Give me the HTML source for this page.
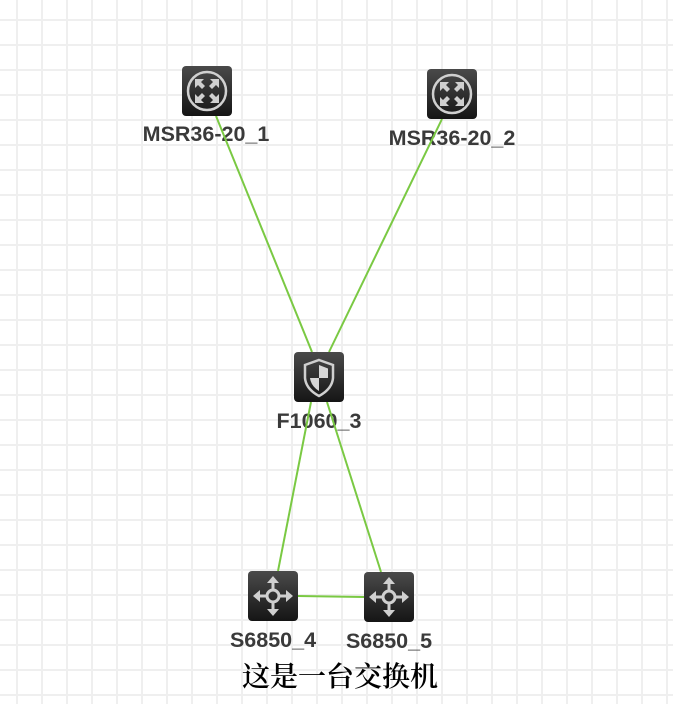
<!DOCTYPE html>
<html><head><meta charset="utf-8"><style>
html,body{margin:0;padding:0;background:#fff;}
svg{display:block;}
.l{font-family:"Liberation Sans",Arial,sans-serif;font-weight:bold;font-size:21.5px;fill:#3a3a3a;text-anchor:middle;}
</style></head><body>
<svg width="673" height="704" viewBox="0 0 673 704" xmlns="http://www.w3.org/2000/svg">
<defs>
<pattern id="g" x="16" y="19" width="25" height="25" patternUnits="userSpaceOnUse">
<rect x="0" y="0" width="2" height="25" fill="#efefef"/>
<rect x="0" y="0" width="25" height="2" fill="#efefef"/>
</pattern>
<linearGradient id="bg" x1="0" y1="0" x2="0" y2="1">
<stop offset="0" stop-color="#4a4a4a"/><stop offset="1" stop-color="#151515"/>
</linearGradient>
<g id="router">
<rect x="0" y="0" width="50" height="50" rx="4" fill="url(#bg)"/>
<circle cx="25" cy="25" r="19" fill="none" stroke="#d0d0d0" stroke-width="2.5"/>
<g fill="#cfcfcf">
<path d="M13 13 L22 13 L19 16 L23 20 L20 23 L16 19 L13 22 Z"/>
<path d="M37 13 L37 22 L34 19 L30 23 L27 20 L31 16 L28 13 Z"/>
<path d="M13 37 L13 28 L16 31 L20 27 L23 30 L19 34 L22 37 Z"/>
<path d="M37 37 L28 37 L31 34 L27 30 L30 27 L34 31 L37 28 Z"/>
</g>
</g>
<g id="switch">
<rect x="0" y="0" width="50" height="50" rx="4" fill="url(#bg)"/>
<g fill="none" stroke="#d0d0d0" stroke-width="3">
<circle cx="25" cy="25" r="6"/>
<path d="M25 19 V10 M25 31 V40 M19 25 H10 M31 25 H40"/>
</g>
<g fill="#d0d0d0">
<path d="M25 5 L31 12 L19 12 Z"/><path d="M25 45 L31 38 L19 38 Z"/>
<path d="M5 25 L12 19 L12 31 Z"/><path d="M45 25 L38 19 L38 31 Z"/>
</g>
</g>
</defs>
<rect width="673" height="704" fill="url(#g)"/>
<text class="l" x="206" y="141">MSR36-20_1</text>
<text class="l" x="452" y="145">MSR36-20_2</text>
<text class="l" x="319" y="428">F1060_3</text>
<text class="l" x="273" y="647">S6850_4</text>
<text class="l" x="389" y="648">S6850_5</text>
<g stroke="#7ac943" stroke-width="2" fill="none">
<line x1="216" y1="116" x2="312" y2="352"/>
<line x1="442" y1="119" x2="329" y2="352"/>
<line x1="311" y1="402" x2="278" y2="571"/>
<line x1="327" y1="402" x2="381" y2="572"/>
<line x1="298" y1="596" x2="364" y2="597"/>
</g>
<use href="#router" x="182" y="66"/>
<use href="#router" x="427" y="69"/>
<g transform="translate(294,352)">
<rect x="0" y="0" width="50" height="50" rx="4" fill="url(#bg)"/>
<path d="M25 8 L39 13 L39 26 Q38 37 25 44 Q12 37 11 26 L11 13 Z" fill="none" stroke="#d0d0d0" stroke-width="2.5"/>
<path d="M25 13 L34 16.5 L34 26 L25 26 Z" fill="#d8d8d8"/>
<path d="M25 26 L16 26 Q17 34 25 39 Z" fill="#d8d8d8"/>
</g>
<use href="#switch" x="248" y="571"/>
<use href="#switch" x="364" y="572"/>
<text x="340" y="686" text-anchor="middle" style="font-family:'Noto Serif CJK SC','Liberation Serif',serif;font-size:28px;font-weight:600;fill:#000;">这是一台交换机</text>
</svg>
</body></html>
